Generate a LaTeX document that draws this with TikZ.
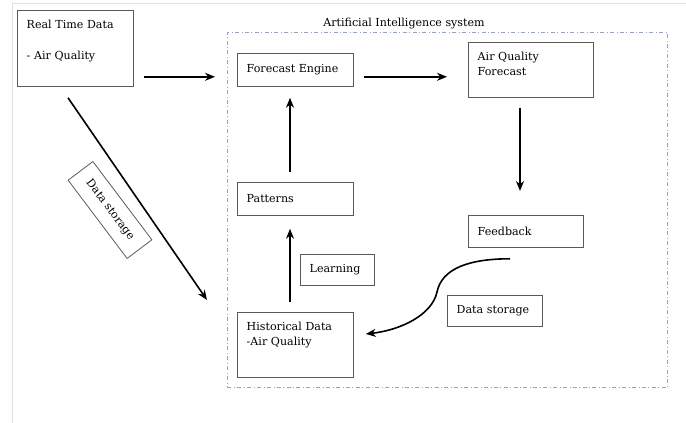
\documentclass[tikz,border=0pt]{standalone}
\usepackage{tikz}
\usepackage{fontspec}
\setmainfont{DejaVu Serif}
\usetikzlibrary{arrows.meta}
\usetikzlibrary{calc}
\definecolor{boxgray}{RGB}{90,90,90}
\definecolor{framegray}{RGB}{150,165,185}

\begin{document}
\begin{tikzpicture}[x=0.75pt,y=-0.75pt, font=\fontsize{8.3}{11.5}\selectfont,
    box/.style={draw=boxgray, line width=0.6pt, anchor=north west, align=left, inner xsep=7pt, inner ysep=3pt},
    topbox/.style={text height=10.5pt, text depth=#1},
    arr/.style={line width=1.2pt, -{Stealth[length=7.5pt,width=6pt]}}]
    \useasboundingbox (0,0) rectangle (686,423);
    % 外框
    \draw[black!12, line width=0.6pt] (12,423) -- (12,3) -- (686,3);

    % AI 系统
    \node[draw=framegray, dash dot, line width=0.6pt, inner sep=0pt, anchor=north west, minimum width=330pt, minimum height=266.25pt] (ai) at (227,32) {};
    \node[anchor=base] (title) at (404,27) {Artificial Intelligence system};

    \node[box, text width=73pt, topbox=40.5pt] (rt) at (17,10) {Real Time Data\\[11.5pt]- Air Quality};
    \node[box, text width=73pt, minimum height=24.75pt] (fe) at (237,53) {Forecast Engine};
    \node[box, text width=79.75pt, topbox=24.75pt] (aqf) at (468,42) {Air Quality\\Forecast};
    \node[box, text width=73pt, minimum height=24.75pt] (pat) at (237,182) {Patterns};
    \node[box, text width=72.25pt, minimum height=24pt] (fb) at (468,215) {Feedback};
    \node[box, text width=41.5pt, minimum height=23.25pt] (lrn) at (300,254) {Learning};
    \node[box, text width=57.25pt, minimum height=23.25pt] (ds2) at (447,295) {Data storage};
    \node[box, text width=73pt, topbox=32.25pt] (hist) at (237,312) {Historical Data\\-Air Quality};
    \node[draw=boxgray, line width=0.6pt, rotate=-53, minimum width=73.5pt, minimum height=23.25pt] (ds1) at (110,210) {Data storage};

    % 箭头
    \draw[arr] ($(rt.south east)+(10,-10)$) -- ($(fe.south west)+(-22,-10)$);
    \draw[arr] ($(fe.south east)+(10,-10)$) -- ($(aqf.south west)+(-21,-21)$);
    \draw[arr] ($(aqf.south west)+(52,10)$) -- ($(fb.north west)+(52,-24)$);
    \draw[arr] ($(pat.north west)+(53,-10)$) -- ($(fe.south west)+(53,11)$);
    \draw[arr] ($(hist.north west)+(53,-10)$) -- ($(pat.south west)+(53,13)$);
    \draw[arr] ($(rt.south west)+(51,11)$) -- ($(hist.north west)+(-30,-12)$);

    \coordinate (fbmid) at (437,292);
    \draw[arr] ($(fb.south west)+(42,11)$) .. controls +(-40,0) and +(5,-24) .. (fbmid)
        .. controls +(-5,23) and +(35,-4) .. ($(hist.north east)+(12,22)$);
\end{tikzpicture}
\end{document}
